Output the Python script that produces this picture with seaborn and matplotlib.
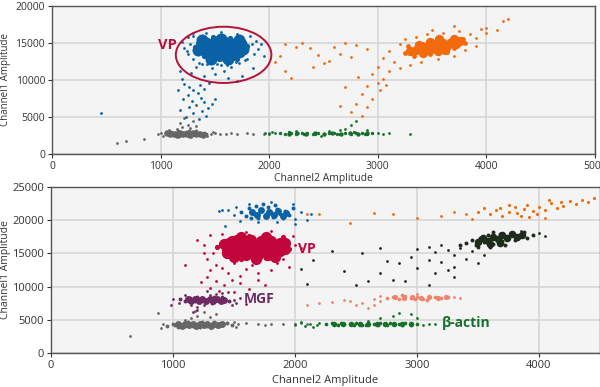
import numpy as np
import pandas as pd
import seaborn as sns
import matplotlib
matplotlib.use('Agg')
import matplotlib.pyplot as plt
from matplotlib.patches import Ellipse

# ---------------- top panel (VP singleplex) ----------------
# VP positive cluster (blue): dense centre, core, scattered droplets
vp1_in_x = [1420, 1500, 1580, 1660, 1460, 1540, 1620, 1700, 1420, 1500, 1580, 1660, 1480, 1560, 1640, 1740, 1380, 1720,
            1380, 1720, 1560, 1460, 1620, 1760, 1340]
vp1_in_y = [15000, 15100, 15100, 14900, 14400, 14500, 14400, 14300, 13900, 13800, 13900, 13700, 13300, 13400, 13200, 14900, 14600, 13800,
            15400, 15400, 15600, 12900, 12800, 14200, 14000]
vp1_core_x = [1400, 1480, 1560, 1640, 1720, 1340, 1420, 1500, 1580, 1660, 1740, 1800, 1320, 1400, 1480, 1560, 1640, 1720, 1780, 1360,
              1440, 1520, 1600, 1680, 1750, 1400, 1480, 1560, 1640, 1700, 1450, 1540, 1620, 1380, 1500, 1600, 1700, 1460, 1540, 1620]
vp1_core_y = [15600, 15800, 15900, 15700, 15500, 15000, 15200, 15300, 15400, 15200, 15000, 14600, 14400, 14600, 14700, 14800, 14600, 14400, 14000, 13800,
              14000, 14100, 14000, 13900, 13500, 13200, 13400, 13500, 13300, 12900, 12700, 12800, 12600, 14100, 13800, 14500, 14800, 15000, 15100, 13000]
vp1_x = [1250, 1300, 1420, 1560, 1700, 1820, 1880, 1920, 1900, 1860, 1800, 1720, 1650, 1560, 1470, 1380, 1300, 1250, 1220, 1180,
         1280, 1400, 1500, 1620, 1750, 1850, 1950, 1200, 1330, 1580, 1700,
         1200, 1220, 1260, 1300, 1340, 1250, 1370, 1290, 1400, 1330, 1260, 1440, 1380, 1300, 1230, 1350, 1420, 1470, 1180, 1210,
         1450, 1160, 1400, 1500, 1360, 450, 1270, 1350, 1430, 1520, 1610, 1690, 1780, 1840, 1300, 1240]
vp1_y = [15800, 16300, 16400, 16500, 16200, 15900, 15300, 14800, 14200, 13500, 12800, 12300, 11800, 12000, 11600, 12200, 12800, 13500, 14300, 11200,
         11000, 10500, 10800, 10300, 10600, 11600, 13200, 15100, 11700, 11200, 9800,
         10200, 9500, 9000, 8600, 8200, 8000, 7600, 7200, 7000, 6600, 6300, 6200, 5800, 5500, 5000, 4700, 5200, 6800, 5900, 7400,
         9600, 8700, 8800, 7500, 9300, 5500, 14900, 12300, 12100, 12200, 12000, 12400, 12700, 14900, 15900, 13900]

# double negative (grey)
neg1_in_x = [1060, 1120, 1180, 1240, 1300, 1360, 1090, 1150, 1210, 1270, 1330, 1390]
neg1_in_y = [2800, 2750, 2800, 2750, 2800, 2700, 2650, 2600, 2650, 2600, 2650, 2600]
neg1_core_x = [1050, 1100, 1100, 1150, 1160, 1200, 1210, 1250, 1260, 1300, 1310, 1350, 1380, 1400, 1420, 1170, 1280, 1330, 1230, 1130]
neg1_core_y = [2800, 2650, 2950, 2750, 3050, 2600, 2900, 2750, 3100, 2650, 2900, 2800, 2600, 2900, 2750, 2500, 2500, 3050, 3000, 2850]
neg1_x = [980, 1000, 1020, 1460, 1500, 1550, 1600, 1650, 1700, 1800, 1850, 1950, 2000, 1150, 1200, 1250, 1180, 1300, 1220, 1270,
          1330, 600, 680, 850, 1080, 1480, 1430]
neg1_y = [2700, 2900, 2500, 2700, 2800, 2750, 2700, 2800, 2650, 2800, 2700, 2750, 2850, 3400, 3700, 3900, 4200, 4500, 4900, 3500,
          3800, 1500, 1700, 2000, 3300, 3000, 2400]

# channel 2 positive (green)
ch2_1_in_x = [2180, 2260, 2340, 2420, 2500, 2580, 2660, 2740, 2820, 2900]
ch2_1_in_y = [2750, 2800, 2750, 2800, 2750, 2800, 2750, 2800, 2750, 2800]
ch2_1_core_x = [2100, 2150, 2200, 2250, 2300, 2350, 2400, 2450, 2500, 2550, 2600, 2650, 2700, 2750, 2800, 2850, 2900, 2950, 2180, 2420,
                2620, 2780, 2880, 2320]
ch2_1_core_y = [2800, 2700, 2850, 2750, 2800, 2900, 2750, 2850, 2700, 2800, 2900, 2750, 2850, 2700, 2800, 2900, 2750, 2800, 2950, 2650,
                2650, 2950, 2650, 2650]
ch2_1_x = [1960, 2000, 2050, 2030, 2700, 2750, 2800, 2650, 2900, 3000, 3050, 3100, 3300, 2250, 2550, 2480]
ch2_1_y = [2900, 2700, 2850, 3000, 3400, 3900, 4500, 3300, 3200, 2800, 2700, 2900, 2700, 3100, 3050, 2500]

# double positive (orange)
dp1_in_x = [3350, 3420, 3480, 3500, 3560, 3600, 3640, 3680, 3420, 3550, 3720, 3760, 3380, 3620, 3300, 3480, 3560, 3700]
dp1_in_y = [14000, 14400, 14000, 14800, 14400, 15000, 14600, 15200, 13700, 13900, 14800, 15300, 14700, 14000, 13900, 15200, 15500, 15600]
dp1_core_x = [3250, 3300, 3330, 3380, 3400, 3420, 3460, 3480, 3500, 3520, 3550, 3580, 3600, 3620, 3660, 3680, 3720, 3740, 3780, 3450,
              3560, 3360, 3640, 3700, 3800, 3280]
dp1_core_y = [13600, 14100, 13300, 14400, 13800, 14900, 14200, 13500, 15100, 14600, 14000, 15400, 14800, 14200, 15300, 14700, 15600, 15000, 15500, 14700,
              15600, 14800, 13800, 14300, 15000, 14600]
dp1_x = [3050, 3100, 3150, 3200, 3250, 3350, 3450, 3600, 3750, 3850, 3900, 3950, 4000, 4100, 3900, 3800, 3700, 3550, 3400, 3300,
         3200, 3100, 3000, 2950, 3050, 3000, 2900, 3020, 2850, 2950, 2800, 2900, 2750, 2850, 2700, 2820, 3080, 2650, 2050, 2150,
         2250, 2300, 2380, 2500, 2600, 2650, 2700, 2800, 2900, 2400, 2550, 2100, 2200, 2450, 2750, 2150, 4150, 4200, 4000, 3700, 3500]
dp1_y = [13000, 13900, 12400, 14800, 15500, 15800, 16200, 16400, 16600, 16200, 15700, 16900, 16400, 16700, 14600, 14000, 13200, 12900, 12500, 12000,
         11600, 11200, 11800, 10800, 10200, 9600, 9200, 8700, 8100, 7500, 6800, 6300, 5700, 5200, 9000, 10400, 9300, 6500, 12400, 14800,
         14400, 15000, 14300, 12300, 14500, 13500, 15000, 14700, 14200, 11800, 12600, 13200, 10300, 13400, 13100, 11200, 18000, 18300, 17000, 17300, 16800]

# ---------------- bottom panel (VP / MGF / beta-actin) ----------------
# top blue cluster
bl2_in_x = [1650, 1720, 1790, 1860, 1930, 1690, 1760, 1830, 1900]
bl2_in_y = [21300, 21500, 21200, 21400, 21100, 20800, 20700, 20800, 20600]
bl2_core_x = [1560, 1600, 1620, 1660, 1680, 1700, 1720, 1760, 1780, 1800, 1820, 1850, 1880, 1900, 1920, 1950, 1740, 1640, 1840, 1980]
bl2_core_y = [21200, 20600, 21800, 21000, 22200, 20400, 21500, 20900, 22000, 21300, 20500, 21700, 21000, 20300, 21400, 20800, 22400, 20300, 22300, 21800]
bl2_x = [1450, 1500, 1520, 1430, 1550, 1700, 1850, 2000, 2050, 2100, 2130, 1980, 1800, 1620, 1380, 1400, 2000]
bl2_y = [21500, 20800, 22000, 19200, 19900, 19700, 19800, 20200, 21200, 20000, 21000, 22500, 22700, 22500, 21400, 21500, 19500]

# VP cluster (red)
vp2_in_x = [1480, 1560, 1640, 1720, 1800, 1880, 1520, 1600, 1680, 1760, 1840, 1480, 1560, 1640, 1720, 1800, 1880, 1600, 1700, 1780,
            1420, 1920, 1440, 1920, 1560, 1760, 1500, 1840, 1680]
vp2_in_y = [16800, 16900, 17000, 16900, 16800, 16600, 16100, 16200, 16100, 16200, 16000, 15500, 15400, 15500, 15400, 15500, 15300, 14700, 14800, 14700,
            16400, 16500, 15000, 15700, 17400, 17400, 14400, 14500, 14200]
vp2_core_x = [1400, 1420, 1450, 1480, 1500, 1520, 1550, 1580, 1600, 1620, 1650, 1680, 1700, 1720, 1750, 1780, 1800, 1830, 1860, 1880,
              1920, 1950, 1560, 1660, 1760, 1440, 1900, 1360, 1530, 1700]
vp2_core_y = [16500, 15500, 17000, 16000, 15000, 17400, 16500, 15500, 14500, 17600, 16800, 15800, 14800, 17200, 16200, 15200, 17000, 16000, 15300, 16800,
              16200, 15600, 14200, 14000, 14300, 14600, 17400, 16000, 16200, 16300]
vp2_x = [1200, 1250, 1300, 1330, 1280, 1350, 1400, 1450, 1500, 1600, 1650, 1700, 1800, 1850, 1900, 1950, 1980, 2000, 2050, 1600,
         1800, 1400, 1250, 1300, 1280, 1350, 1420, 1300, 1380, 1480, 1550, 1620, 1500, 1230, 1700, 1100, 1750, 1550]
vp2_y = [17000, 16300, 17700, 15000, 14200, 13200, 12800, 12000, 13500, 12700, 13300, 12100, 12500, 13600, 14200, 13000, 17600, 16300, 15800, 18200,
         18400, 17900, 15000, 12500, 11400, 10800, 10200, 9800, 9300, 11000, 10500, 9700, 9200, 10700, 11000, 13200, 10300, 11600]

# MGF cluster (purple)
mgf_in_x = [1120, 1180, 1240, 1300, 1360, 1420, 1150, 1210, 1270, 1330, 1390]
mgf_in_y = [8100, 8150, 8100, 8150, 8100, 8050, 7850, 7900, 7850, 7900, 7850]
mgf_core_x = [1060, 1100, 1140, 1180, 1220, 1260, 1300, 1340, 1380, 1420, 1460, 1200, 1320, 1120, 1400, 1250]
mgf_core_y = [8100, 7900, 8300, 7800, 8200, 7700, 8100, 8400, 7900, 8200, 7800, 8500, 7600, 8000, 8500, 8000]
mgf_x = [980, 1000, 1050, 1100, 1150, 1200, 1250, 1300, 1350, 1400, 1450, 1500, 1520, 1550, 1600, 1480, 1280, 1200, 1160]
mgf_y = [7200, 8200, 7500, 8700, 7200, 6900, 7300, 8800, 8900, 9000, 9200, 8000, 7500, 8300, 7400, 7200, 9300, 6500, 6200]

# negatives (grey)
neg2_in_x = [1040, 1100, 1160, 1220, 1280, 1340, 1400, 1070, 1130, 1190, 1250, 1310, 1370]
neg2_in_y = [4350, 4400, 4350, 4400, 4350, 4300, 4300, 4100, 4150, 4100, 4150, 4100, 4150]
neg2_core_x = [950, 1000, 1040, 1080, 1120, 1160, 1200, 1240, 1280, 1320, 1360, 1400, 1440, 1480, 1100, 1220, 1340, 1020]
neg2_core_y = [4100, 4400, 3900, 4300, 4600, 4000, 4400, 4700, 4100, 4400, 4000, 4300, 4500, 4200, 4100, 3900, 4600, 4200]
neg2_x = [900, 920, 880, 650, 1530, 1600, 1700, 1750, 1800, 1900, 2000, 2050, 2100, 1150, 1200, 1250, 1300, 1180, 1350, 1100,
          1500, 1520]
neg2_y = [3800, 4300, 6000, 2500, 4300, 4500, 4400, 4200, 4400, 4300, 4200, 4500, 4300, 5200, 5600, 6100, 5400, 6300, 5800, 5000,
          4700, 3900]

# beta-actin (green)
act_in_x = [2320, 2390, 2460, 2530, 2600, 2670, 2740, 2810, 2880, 2950]
act_in_y = [4350, 4300, 4350, 4300, 4350, 4300, 4350, 4300, 4350, 4300]
act_core_x = [2250, 2300, 2350, 2400, 2450, 2500, 2550, 2600, 2650, 2700, 2750, 2800, 2850, 2900, 2950, 3000, 2380, 2580, 2780, 2480,
              2680, 2880]
act_core_y = [4300, 4450, 4200, 4400, 4300, 4500, 4250, 4400, 4300, 4500, 4200, 4400, 4300, 4450, 4250, 4350, 4550, 4150, 4550, 4150,
              4150, 4150]
act_x = [2000, 2050, 2080, 2120, 2150, 2200, 2180, 3050, 3100, 3150, 2700, 2800, 2850, 2950, 3000, 2600]
act_y = [4300, 4600, 4000, 4400, 3900, 4500, 4200, 4200, 4400, 4300, 5200, 5500, 6000, 5800, 5200, 4800]

# MGF + beta-actin (salmon)
sal_in_x = [2820, 2890, 2960, 3030, 3100, 3170, 3240]
sal_in_y = [8400, 8350, 8400, 8350, 8400, 8350, 8400]
sal_core_x = [2750, 2800, 2850, 2900, 2950, 3000, 3050, 3100, 3150, 3200, 3250, 2880, 3080, 2980]
sal_core_y = [8300, 8500, 8200, 8600, 8300, 8500, 8200, 8600, 8400, 8300, 8500, 8750, 8050, 8100]
sal_x = [2650, 2700, 3300, 3350, 2200, 2300, 2450, 2500, 2550, 2600, 2650, 2400, 2100, 3000, 2700]
sal_y = [8200, 8600, 8400, 8300, 7500, 7700, 7800, 7300, 7600, 6800, 7200, 8000, 7300, 8900, 7900]

# VP + beta-actin (dark)
dk_in_x = [3500, 3580, 3660, 3740, 3820, 3540, 3620, 3700, 3780, 3860, 3600, 3680]
dk_in_y = [16700, 16900, 17100, 17300, 17500, 17300, 17500, 17700, 17900, 17800, 16400, 16600]
dk_core_x = [3400, 3450, 3480, 3520, 3550, 3580, 3620, 3650, 3680, 3700, 3740, 3780, 3800, 3850, 3900, 3950, 3500, 3600, 3720, 3880,
             3350, 3620]
dk_core_y = [16500, 17000, 16200, 17300, 16700, 17700, 16400, 17200, 17900, 16800, 17500, 18100, 17000, 17600, 17300, 17800, 15900, 16000, 16200, 18200,
             16300, 18200]
dk_x = [3100, 3150, 3200, 3250, 3300, 3350, 3400, 3450, 3500, 3550, 3300, 3250, 3200, 3100, 3000, 2950, 2850, 2800, 2700, 2600,
        2400, 2500, 2300, 2150, 2050, 2100, 2700, 2550, 3000, 3150, 4050, 4000, 3850, 3300, 2900, 3100, 2750]
dk_y = [16000, 15200, 16300, 15500, 14700, 15800, 14200, 15400, 13600, 14800, 13000, 12500, 13700, 14000, 12800, 14500, 13500, 11000, 12000, 10900,
        12400, 10200, 15300, 14000, 12600, 10400, 15800, 15000, 15600, 12000, 17600, 18000, 18400, 11500, 10800, 10200, 13800]

# triple positive (orange)
tp_core_x = [3600, 3650, 3700, 3750, 3800, 3820, 3850, 3880, 3900, 3950, 3980, 4000, 4050, 4100, 4150, 4200, 4250, 4300, 4350, 4400,
             3750, 3680, 4080, 3920, 3550, 3500, 4180, 4450]
tp_core_y = [21000, 21600, 20700, 21300, 22000, 21100, 20600, 21700, 22300, 21400, 20900, 22000, 21500, 22600, 21800, 22200, 22900, 22500, 23100, 22700,
             22300, 21900, 23000, 20500, 21800, 21200, 22700, 23300]
tp_x = [2650, 2800, 3000, 3200, 3300, 3400, 2200, 2100, 2450, 3450, 4050]
tp_y = [21100, 20900, 20400, 20700, 21200, 21000, 21000, 20900, 19600, 20200, 20300]

BLUE = '#0a62a6'
ORANGE = '#f26a0c'
GREY = '#666666'
GREEN = '#16702c'
RED = '#c2053a'
PURPLE = '#6e2b62'
SALMON = '#f0836f'
DARK = '#1f2b1b'

sns.set_theme(style='whitegrid')
plt.rcParams['font.family'] = ['Open Sans', 'DejaVu Sans']

fig = plt.figure(figsize=(6, 3.87), dpi=100)
ax1 = fig.add_axes([52 / 600, 233 / 387, 543 / 600, 148 / 387])
ax2 = fig.add_axes([51 / 600, 34 / 387, 549 / 600, 166 / 387])


def draw(ax, core_x, core_y, x, y, color, core_s=10, s=4, in_x=None, in_y=None, in_s=40):
    sns.scatterplot(x=x, y=y, ax=ax, color=color, s=s, linewidth=0, legend=False)
    sns.scatterplot(x=core_x, y=core_y, ax=ax, color=color, s=core_s, linewidth=0, legend=False)
    if in_x is not None:
        sns.scatterplot(x=in_x, y=in_y, ax=ax, color=color, s=in_s, linewidth=0, legend=False)


draw(ax1, neg1_core_x, neg1_core_y, neg1_x, neg1_y, GREY, 8, in_x=neg1_in_x, in_y=neg1_in_y, in_s=22)
draw(ax1, ch2_1_core_x, ch2_1_core_y, ch2_1_x, ch2_1_y, GREEN, 6, in_x=ch2_1_in_x, in_y=ch2_1_in_y, in_s=10)
draw(ax1, dp1_core_x, dp1_core_y, dp1_x, dp1_y, ORANGE, 12, in_x=dp1_in_x, in_y=dp1_in_y, in_s=45)
draw(ax1, vp1_core_x, vp1_core_y, vp1_x, vp1_y, BLUE, 14, in_x=vp1_in_x, in_y=vp1_in_y, in_s=75)

draw(ax2, neg2_core_x, neg2_core_y, neg2_x, neg2_y, GREY, 8, in_x=neg2_in_x, in_y=neg2_in_y, in_s=25)
draw(ax2, act_core_x, act_core_y, act_x, act_y, GREEN, 7, in_x=act_in_x, in_y=act_in_y, in_s=16)
draw(ax2, sal_core_x, sal_core_y, sal_x, sal_y, SALMON, 7, in_x=sal_in_x, in_y=sal_in_y, in_s=14)
draw(ax2, mgf_core_x, mgf_core_y, mgf_x, mgf_y, PURPLE, 8, in_x=mgf_in_x, in_y=mgf_in_y, in_s=25)
draw(ax2, dk_core_x, dk_core_y, dk_x, dk_y, DARK, 8, in_x=dk_in_x, in_y=dk_in_y, in_s=30)
draw(ax2, tp_core_x, tp_core_y, tp_x, tp_y, ORANGE, 5)
draw(ax2, bl2_core_x, bl2_core_y, bl2_x, bl2_y, BLUE, 8, in_x=bl2_in_x, in_y=bl2_in_y, in_s=25)
draw(ax2, vp2_core_x, vp2_core_y, vp2_x, vp2_y, RED, 14, in_x=vp2_in_x, in_y=vp2_in_y, in_s=65)

# ellipse around VP cluster
ax1.add_patch(Ellipse((1580, 13400), 880, 7600, fill=False, edgecolor='#b5123a', lw=1.4))
ax1.text(1060, 14700, 'VP', color='#b5123a', fontsize=10.5, fontweight='bold', ha='center', va='center')
ax2.text(2100, 15700, 'VP', color=RED, fontsize=10, fontweight='bold', ha='center', va='center')
ax2.text(1710, 8100, 'MGF', color=PURPLE, fontsize=10, fontweight='bold', ha='center', va='center')
ax2.text(3400, 4500, 'β-actin', color=GREEN, fontsize=10, fontweight='bold', ha='center', va='center')

for ax, ymax, xmax in [(ax1, 20000, 5000), (ax2, 25000, 4500)]:
    ax.set_xlim(0, xmax)
    ax.set_ylim(0, ymax)
    ax.set_facecolor('#f4f4f4')
    ax.set_xticks(np.arange(0, xmax + 1, 1000))
    ax.set_yticks(np.arange(0, ymax + 1, 5000))
    ax.grid(True, color='#d6d6d6', lw=1.2)
    ax.set_axisbelow(True)
    for sp in ax.spines.values():
        sp.set_color('#555555')
        sp.set_linewidth(1)
    ax.tick_params(axis='both', labelsize=7.5, colors='#333333', length=3, width=0.8,
                   direction='out', pad=2, bottom=True, left=True)
    ax.set_ylabel('Channel1 Amplitude', fontsize=7, color='#333333')
    ax.set_xlabel('Channel2 Amplitude', fontsize=7.5, color='#333333', labelpad=1)

ax1.yaxis.set_label_coords(-0.075, 0.5)
ax2.tick_params(labelsize=8)
ax2.set_ylabel('Channel1 Amplitude', fontsize=7.5, color='#333333')
ax2.yaxis.set_label_coords(-0.072, 0.5)
ax2.set_xlabel('Channel2 Amplitude', fontsize=8, color='#333333', labelpad=3)

fig.savefig('out.png', dpi=100)
